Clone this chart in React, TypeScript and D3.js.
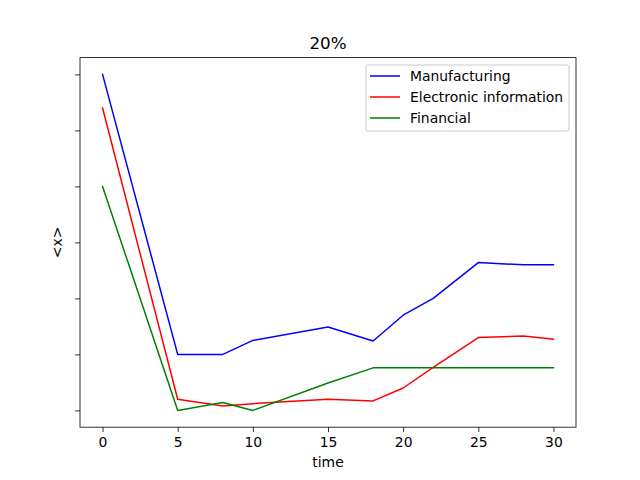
import React, { useEffect, useRef } from "react";
import * as d3 from "d3";

const times = [0, 5, 8, 10, 15, 18, 20, 22, 25, 28, 30];
const manufacturing = [6.0, 1.0, 1.0, 1.25, 1.49, 1.24, 1.7, 2.0, 2.64, 2.6, 2.6];
const electronic = [5.4, 0.2, 0.08, 0.12, 0.2, 0.17, 0.4, 0.77, 1.3, 1.33, 1.27];
const financial = [4.0, 0.0, 0.14, 0.0, 0.49, 0.76, 0.76, 0.76, 0.76, 0.76, 0.76];
const xTicks = [0, 5, 10, 15, 20, 25, 30];
const yTicks = [0, 1, 2, 3, 4, 5, 6];

const seriesList = [
  { name: "Manufacturing", values: manufacturing, color: "#0000ff" },
  { name: "Electronic information", values: electronic, color: "#ff0000" },
  { name: "Financial", values: financial, color: "#008000" },
];

export default function App() {
  const ref = useRef<SVGSVGElement>(null);

  useEffect(() => {
    const svg = d3.select(ref.current);
    svg.selectAll("*").remove();
    const width = 640;
    const height = 480;
    const margin = { top: 57.6, right: 64, bottom: 52.8, left: 80 };
    const innerW = width - margin.left - margin.right;
    const innerH = height - margin.top - margin.bottom;
    const font = "DejaVu Sans, sans-serif";

    svg.append("rect").attr("width", width).attr("height", height).attr("fill", "#fff");

    const x = d3.scaleLinear().domain([-1.5, 31.5]).range([0, innerW]);
    const y = d3.scaleLinear().domain([-0.3, 6.3]).range([innerH, 0]);

    const g = svg.append("g").attr("transform", `translate(${margin.left}, ${margin.top})`);

    // lines
    const line = d3
      .line<number>()
      .x((_, i) => x(times[i]))
      .y((d) => y(d));
    seriesList.forEach((s) => {
      g.append("path")
        .attr("d", line(s.values))
        .attr("fill", "none")
        .attr("stroke", s.color)
        .attr("stroke-width", 1.5)
        .attr("stroke-linejoin", "round")
        .attr("stroke-linecap", "square");
    });

    // axes
    const xAxis = g
      .append("g")
      .attr("transform", `translate(0, ${innerH})`)
      .call(d3.axisBottom(x).tickValues(xTicks).tickSize(4.9).tickPadding(4.9).tickFormat(d3.format("d")));
    xAxis.select(".domain").remove();
    xAxis.selectAll("text").attr("font-family", font).attr("font-size", 13.9).attr("fill", "#000");
    xAxis.selectAll("line").attr("stroke", "#000").attr("stroke-width", 0.8);

    const yAxis = g
      .append("g")
      .call(d3.axisLeft(y).tickValues(yTicks).tickSize(4.9).tickFormat(() => ""));
    yAxis.select(".domain").remove();
    yAxis.selectAll("line").attr("stroke", "#000").attr("stroke-width", 0.8);

    g.append("rect")
      .attr("width", innerW)
      .attr("height", innerH)
      .attr("fill", "none")
      .attr("stroke", "#000")
      .attr("stroke-width", 0.8);

    // labels
    svg.append("text")
      .attr("x", margin.left + innerW / 2)
      .attr("y", 49)
      .attr("text-anchor", "middle")
      .attr("font-family", font)
      .attr("font-size", 16.7)
      .text("20%");
    svg.append("text")
      .attr("x", margin.left + innerW / 2)
      .attr("y", 467)
      .attr("text-anchor", "middle")
      .attr("font-family", font)
      .attr("font-size", 13.9)
      .text("time");
    svg.append("text")
      .attr("transform", `translate(62, ${margin.top + innerH / 2}) rotate(-90)`)
      .attr("text-anchor", "middle")
      .attr("font-family", font)
      .attr("font-size", 13.9)
      .text("<x>");

    // legend
    const lg = svg.append("g").attr("transform", "translate(366, 65)");
    lg.append("rect")
      .attr("width", 203)
      .attr("height", 66)
      .attr("rx", 2)
      .attr("fill", "#fff")
      .attr("fill-opacity", 0.8)
      .attr("stroke", "#ccc")
      .attr("stroke-width", 1);
    seriesList.forEach((s, i) => {
      const yy = 11 + i * 21;
      lg.append("line")
        .attr("x1", 4)
        .attr("x2", 34)
        .attr("y1", yy)
        .attr("y2", yy)
        .attr("stroke", s.color)
        .attr("stroke-width", 1.5);
      lg.append("text")
        .attr("x", 44)
        .attr("y", yy + 5)
        .attr("font-family", font)
        .attr("font-size", 13.9)
        .text(s.name);
    });
  }, []);

  return <svg ref={ref} width={640} height={480} style={{ display: "block", margin: -8 }} />;
}
